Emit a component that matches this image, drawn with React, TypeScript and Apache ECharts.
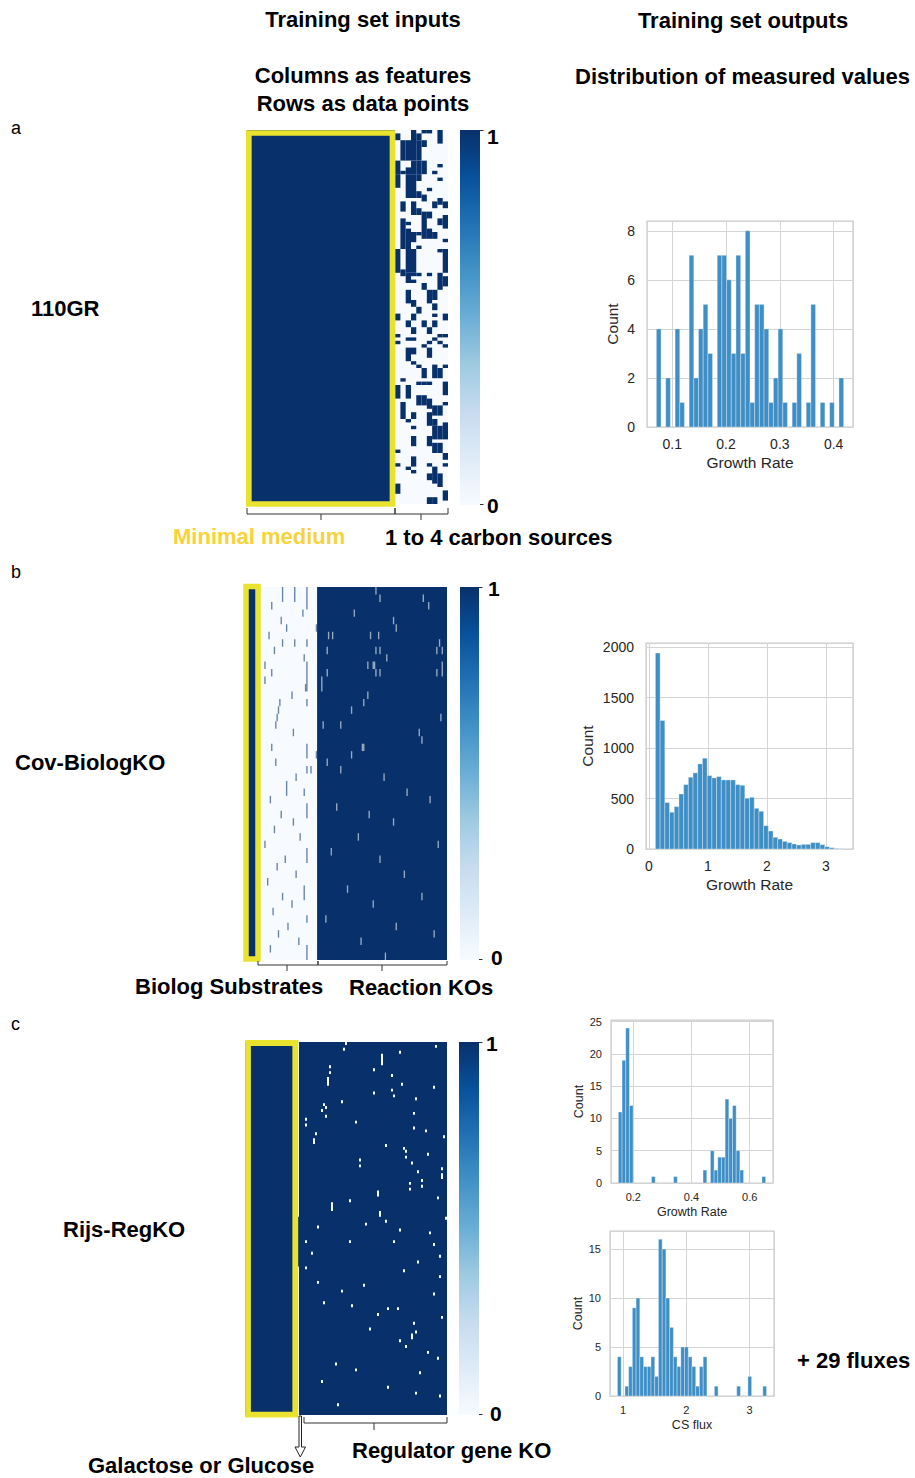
import React, { useEffect, useRef } from "react";
import * as echarts from "echarts";

const W = 915;
const H = 1478;
const FONT = '"Liberation Sans", Arial, Helvetica, sans-serif';
const TXT = "#262626";
const GRIDC = "#d4d4d4";
const BAR = "#3f8fc6";
const YELLOW = "#e9e330";
const YELLOW_TXT = "#f8d23a";

// ---------- Blues colormap ----------
const BLUES = ["#f7fbff", "#deebf7", "#c6dbef", "#9ecae1", "#6baed6", "#4292c6", "#2171b5", "#08519c", "#08306b"];

// ---------- Panel a : 110GR (28 minimal-medium columns, 10 carbon-source columns, 110 rows) ----------
const aMediumCols = 28;
const aCarbonCols = 10;
const aRows = 110;
// dark cells in the carbon-source block: [column, rowFrom, rowTo]
const aCarbonOn: number[][] = [
  [0, 1, 2], [3, 0, 3], [5, 0, 0], [6, 0, 0], [8, 0, 3], [4, 1, 2],
  [1, 3, 8], [2, 3, 8], [3, 3, 8], [4, 3, 8], [5, 3, 4],
  [0, 9, 12], [3, 9, 12], [4, 9, 12], [5, 9, 12], [8, 10, 10],
  [2, 11, 12], [1, 12, 12], [7, 12, 12],
  [0, 13, 16], [2, 13, 19], [3, 13, 19], [4, 13, 14], [8, 14, 14],
  [6, 17, 17], [4, 18, 19], [5, 19, 20], [8, 20, 21],
  [1, 21, 23], [3, 21, 24], [7, 21, 22], [9, 21, 22],
  [4, 23, 24], [5, 24, 31], [6, 24, 25], [9, 25, 28],
  [1, 26, 34], [8, 26, 27], [2, 27, 27], [2, 29, 34], [6, 29, 31], [3, 30, 32], [4, 30, 30], [7, 30, 31],
  [9, 32, 32], [4, 34, 34],
  [0, 35, 41], [2, 35, 41], [3, 35, 41], [9, 35, 41], [8, 35, 35], [1, 41, 42],
  [2, 42, 44], [3, 42, 42], [4, 42, 42], [6, 42, 42], [8, 42, 46],
  [9, 43, 45], [3, 44, 44], [5, 45, 46],
  [2, 47, 50], [6, 47, 50], [7, 47, 49], [3, 50, 51],
  [4, 52, 53], [7, 51, 52],
  [0, 54, 55], [3, 54, 55], [7, 54, 54], [9, 54, 55],
  [2, 56, 57], [5, 56, 57], [7, 56, 57], [6, 58, 59], [3, 58, 59],
  [0, 60, 60], [2, 61, 61], [3, 61, 61], [7, 61, 61], [8, 60, 60], [9, 60, 60],
  [0, 62, 62], [6, 62, 62], [8, 62, 62], [5, 63, 63], [9, 63, 63],
  [2, 64, 67], [3, 64, 65], [6, 64, 66],
  [3, 68, 68],
  [4, 69, 69], [5, 70, 72], [7, 69, 72], [8, 70, 72], [9, 69, 69],
  [1, 73, 73],
  [4, 74, 74], [5, 74, 74], [6, 74, 74], [9, 74, 77],
  [0, 75, 78], [2, 75, 78],
  [4, 78, 80], [5, 78, 80], [6, 79, 81],
  [1, 80, 84], [7, 81, 83], [8, 81, 83], [9, 80, 80],
  [3, 83, 84], [6, 83, 86], [7, 85, 86], [2, 85, 85],
  [3, 87, 87],
  [7, 87, 90], [8, 87, 90], [9, 86, 90],
  [3, 90, 92], [6, 90, 92],
  [7, 92, 94], [8, 92, 94],
  [0, 94, 94], [9, 95, 96],
  [3, 96, 98],
  [0, 98, 98], [6, 98, 98], [9, 98, 98],
  [2, 99, 99], [7, 99, 103], [3, 100, 100],
  [6, 101, 102], [8, 101, 104],
  [0, 104, 106],
  [9, 106, 108],
  [6, 108, 109], [7, 108, 109],
];

// ---------- Panel b : Cov-BiologKO (10 medium, 44 Biolog, 96 reaction-KO columns, 50 row blocks) ----------
const bMediumCols = 10;
const bBiologCols = 44;
const bReactionCols = 96;
const bRows = 50;
// dark marks inside the (mostly empty) Biolog block: [column, rowFrom, rowTo]
const bBiologOn: number[][] = [
  [28, 0, 1], [37, 0, 1], [46, 0, 2], [20, 2, 2], [43, 3, 3], [27, 4, 4], [31, 5, 5], [53, 5, 5],
  [18, 6, 6], [28, 7, 7], [37, 7, 7], [46, 7, 7], [22, 8, 8], [44, 9, 9], [15, 10, 10], [46, 10, 13],
  [20, 11, 11], [15, 12, 12], [45, 13, 13], [35, 14, 14], [26, 15, 15], [46, 15, 15], [25, 16, 16],
  [24, 17, 17], [23, 18, 18], [36, 19, 19], [20, 21, 21], [46, 21, 22], [53, 22, 22], [23, 23, 23],
  [46, 24, 24], [49, 24, 24], [38, 25, 25],
  [31, 26, 27], [44, 27, 27], [19, 28, 28], [46, 29, 30], [27, 30, 30], [36, 31, 31], [22, 32, 32],
  [41, 33, 33], [15, 34, 34], [46, 35, 36], [30, 36, 36], [24, 37, 37], [38, 38, 38], [17, 39, 39],
  [44, 40, 41], [28, 41, 41], [35, 42, 42], [21, 43, 43], [46, 44, 44], [32, 45, 45], [25, 46, 46],
  [40, 47, 47], [46, 48, 49], [19, 48, 48],
];
// empty marks inside the (mostly full) reaction-KO block: [column, rowFrom, rowTo]
const bReactionOff: number[][] = [
  [97, 0, 0], [100, 1, 1], [132, 1, 1], [136, 2, 2], [81, 3, 3], [110, 4, 4], [112, 5, 5],
  [62, 6, 6], [65, 6, 6], [93, 6, 6], [99, 6, 6], [144, 7, 7], [61, 8, 8], [97, 8, 8], [100, 8, 8],
  [142, 8, 8], [146, 8, 8], [105, 9, 9], [91, 10, 10], [95, 10, 10], [96, 10, 10], [146, 10, 10],
  [61, 11, 11], [97, 11, 11], [100, 11, 11], [142, 11, 11], [146, 11, 11], [57, 12, 13], [91, 14, 14],
  [88, 15, 15], [79, 16, 16], [145, 17, 17], [58, 18, 18], [71, 18, 18], [129, 19, 19], [131, 20, 20],
  [87, 21, 21], [88, 21, 21], [79, 22, 22], [61, 23, 23], [71, 24, 24], [103, 25, 25],
  [120, 27, 27], [137, 28, 28], [68, 29, 29], [92, 30, 30], [110, 31, 31], [84, 33, 33], [143, 34, 34],
  [64, 35, 35], [100, 36, 36], [118, 38, 38], [76, 40, 40], [131, 41, 41], [95, 42, 42], [60, 44, 44],
  [112, 45, 45], [140, 46, 46], [86, 47, 47], [104, 49, 49],
];

// ---------- Panel c : Rijs-RegKO (26 medium, 1 galactose/glucose, 74 regulator columns, 128 rows) ----------
const cMediumCols = 26;
const cSwitchCols = 1;
const cRegulatorCols = 74;
const cRows = 128;
const cSwitchOn: number[][] = [[60, 76]];
const cRegulatorOff: number[][] = [
  [50, 0, 0], [49, 2, 2], [77, 3, 3], [95, 1, 1], [68, 4, 7], [42, 8, 8], [42, 10, 10], [41, 12, 14],
  [64, 9, 9], [73, 11, 11], [78, 14, 14], [94, 15, 15], [73, 16, 16], [64, 17, 17], [74, 18, 18],
  [85, 19, 19], [48, 20, 20], [39, 21, 21], [40, 22, 22], [38, 23, 23], [40, 25, 25], [84, 24, 24],
  [30, 26, 26], [55, 27, 27], [30, 28, 28], [84, 29, 29], [90, 30, 30], [35, 31, 31], [99, 32, 32],
  [34, 33, 34], [70, 35, 35], [79, 36, 36], [80, 37, 37], [91, 38, 38], [57, 40, 40], [80, 39, 39],
  [83, 41, 41], [57, 42, 42], [98, 43, 43], [86, 44, 44], [98, 45, 46], [88, 47, 47], [82, 48, 48],
  [88, 49, 49], [82, 50, 50], [66, 51, 52], [96, 53, 53], [52, 54, 54], [43, 55, 57], [67, 58, 59],
  [100, 60, 60], [70, 61, 61], [60, 62, 62], [36, 63, 63], [77, 64, 64], [92, 65, 65],
  [30, 68, 68], [52, 68, 68], [74, 68, 68], [94, 69, 69], [33, 72, 72], [97, 73, 73], [86, 75, 75],
  [30, 77, 77], [79, 78, 78], [97, 80, 80], [36, 82, 82], [59, 83, 83], [48, 85, 85], [94, 86, 86],
  [39, 89, 89], [53, 90, 90], [76, 91, 91], [71, 91, 91], [66, 93, 93], [98, 94, 94], [84, 96, 96],
  [62, 98, 98], [85, 99, 99], [83, 100, 101], [77, 102, 102], [80, 104, 104], [91, 106, 106],
  [96, 108, 108], [45, 110, 110], [55, 112, 112], [87, 113, 113], [38, 116, 116], [71, 118, 118],
  [85, 120, 120], [97, 121, 121], [46, 124, 124],
];

// ---------- Histograms (40 bins each) ----------
const histA_counts = [4, 0, 2, 0, 4, 1, 0, 7, 2, 4, 5, 3, 0, 7, 7, 6, 3, 7, 3, 8, 1, 5, 5, 4, 1, 2, 4, 1, 0, 1, 3, 0, 1, 5, 0, 1, 0, 1, 0, 2];
const histA_range = [0.0704, 0.4186];
const histA_xTicks = [0.1, 0.2, 0.3, 0.4];
const histA_yTicks = [0, 2, 4, 6, 8];

const histB_counts = [1940, 1273, 460, 364, 420, 545, 638, 711, 754, 843, 899, 727, 704, 717, 684, 684, 684, 638, 631, 502, 512, 403, 374, 231, 178, 116, 99, 76, 63, 50, 40, 46, 46, 63, 63, 43, 23, 13, 5, 2];
const histB_range = [0.1086, 3.3];
const histB_xTicks = [0, 1, 2, 3];
const histB_yTicks = [0, 500, 1000, 1500, 2000];

const histC1_counts = [11, 19, 24, 12, 0, 0, 0, 0, 0, 1, 0, 0, 0, 0, 0, 1, 0, 0, 0, 0, 0, 0, 0, 2, 0, 5, 2, 4, 4, 13, 10, 12, 5, 2, 0, 0, 0, 0, 0, 1];
const histC1_range = [0.1488, 0.6547];
const histC1_xTicks = [0.2, 0.4, 0.6];
const histC1_yTicks = [0, 5, 10, 15, 20, 25];

const histC2_counts = [4, 0, 1, 3, 9, 10, 4, 3, 3, 4, 2, 16, 15, 10, 7, 4, 3, 5, 5, 4, 3, 1, 3, 4, 0, 0, 1, 0, 0, 0, 0, 0, 1, 0, 0, 2, 0, 0, 0, 1];
const histC2_range = [0.9127, 3.2663];
const histC2_xTicks = [1, 2, 3];
const histC2_yTicks = [0, 5, 10, 15];

// ---------- helpers ----------
function hexToRgb(h: string) {
  const n = parseInt(h.slice(1), 16);
  return [(n >> 16) & 255, (n >> 8) & 255, n & 255];
}
function blues(v: number) {
  const t = Math.max(0, Math.min(1, v)) * (BLUES.length - 1);
  const i = Math.min(BLUES.length - 2, Math.floor(t));
  const f = t - i;
  const a = hexToRgb(BLUES[i]);
  const b = hexToRgb(BLUES[i + 1]);
  const c = a.map((x, k) => Math.round(x + (b[k] - x) * f));
  return `rgb(${c[0]},${c[1]},${c[2]})`;
}

function rectRender(params: any, api: any) {
  const p0 = api.coord([api.value(0), api.value(2)]);
  const p1 = api.coord([api.value(1), api.value(3)]);
  const w = Math.abs(p1[0] - p0[0]);
  return {
    type: "rect",
    shape: {
      x: Math.min(p0[0], p1[0]),
      y: Math.min(p0[1], p1[1]),
      width: w,
      height: Math.abs(p1[1] - p0[1]),
    },
    // sub-2px wide cells blend with their neighbours on screen
    style: { fill: blues(api.value(4)), opacity: w < 2 ? 0.6 : 1 },
  };
}

function histRender(params: any, api: any) {
  const p0 = api.coord([api.value(0), api.value(2)]);
  const p1 = api.coord([api.value(1), 0]);
  return {
    type: "rect",
    shape: { x: p0[0], y: p0[1], width: p1[0] - p0[0], height: p1[1] - p0[1] },
    style: { fill: BAR, stroke: "rgba(255,255,255,0.55)", lineWidth: 0.6 },
  };
}

function tickFormatter(ticks: number[]) {
  return (v: number) => {
    const t = ticks.find((x) => Math.abs(x - v) < 1e-6 * Math.max(1, Math.abs(x)));
    return t === undefined ? "" : String(t);
  };
}

export default function App() {
  const ref = useRef<HTMLDivElement>(null);

  useEffect(() => {
    if (!ref.current) return;
    const chart = echarts.init(ref.current, undefined, { renderer: "svg", width: W, height: H });

    // ---- heatmap cell data [x0, x1, y0, y1, value] ----
    const aTotal = aMediumCols + aCarbonCols;
    const aData: number[][] = [
      [0, aMediumCols, 0, aRows, 1],
      [aMediumCols, aTotal, 0, aRows, 0],
      ...aCarbonOn.map(([c, r0, r1]) => [aMediumCols + c, aMediumCols + c + 1, r0, r1 + 1, 1]),
    ];

    const bTotal = bMediumCols + bBiologCols + bReactionCols;
    const bData: number[][] = [
      [0, bMediumCols, 0, bRows, 1],
      [bMediumCols, bMediumCols + bBiologCols, 0, bRows, 0],
      [bMediumCols + bBiologCols, bTotal, 0, bRows, 1],
      ...bBiologOn.map(([c, r0, r1]) => [c, c + 1, r0, r1 + 1, 1]),
      ...bReactionOff.map(([c, r0, r1]) => [c, c + 1, r0, r1 + 1, 0]),
    ];

    const cTotal = cMediumCols + cSwitchCols + cRegulatorCols;
    const cData: number[][] = [
      [0, cMediumCols, 0, cRows, 1],
      [cMediumCols, cMediumCols + cSwitchCols, 0, cRows, 0],
      ...cSwitchOn.map(([r0, r1]) => [cMediumCols, cMediumCols + cSwitchCols, r0, r1 + 1, 1]),
      [cMediumCols + cSwitchCols, cTotal, 0, cRows, 1],
      ...cRegulatorOff.map(([c, r0, r1]) => [c, c + 1, r0, r1 + 1, 0]),
    ];

    const heatmaps = [
      { left: 247, top: 130, width: 201, height: 374, cols: aTotal, rows: aRows, data: aData },
      { left: 244, top: 587, width: 203, height: 373, cols: bTotal, rows: bRows, data: bData },
      { left: 245, top: 1042, width: 202, height: 373, cols: cTotal, rows: cRows, data: cData },
    ];

    const hists = [
      { left: 647, top: 221, width: 206, height: 206, xMin: 0.053, xMax: 0.436, yMax: 8.4, yInt: 2, split: 4,
        range: histA_range, counts: histA_counts, xTicks: histA_xTicks, yTicks: histA_yTicks, xName: "Growth Rate",
        tick: 14, name: 15.5, xMargin: 10, yMargin: 12, xGap: 27, yGap: 27 },
      { left: 646, top: 643, width: 207, height: 206, xMin: -0.051, xMax: 3.459, yMax: 2040, yInt: 500, split: 4,
        range: histB_range, counts: histB_counts, xTicks: histB_xTicks, yTicks: histB_yTicks, xName: "Growth Rate",
        tick: 14, name: 15.5, xMargin: 10, yMargin: 12, xGap: 27, yGap: 51 },
      { left: 611, top: 1020, width: 162, height: 163, xMin: 0.1235, xMax: 0.68, yMax: 25.25, yInt: 5, split: 3,
        range: histC1_range, counts: histC1_counts, xTicks: histC1_xTicks, yTicks: histC1_yTicks, xName: "Growth Rate",
        tick: 11, name: 12.5, xMargin: 8, yMargin: 9, xGap: 22, yGap: 26 },
      { left: 610, top: 1231, width: 164, height: 165, xMin: 0.795, xMax: 3.384, yMax: 16.84, yInt: 5, split: 3,
        range: histC2_range, counts: histC2_counts, xTicks: histC2_xTicks, yTicks: histC2_yTicks, xName: "CS flux",
        tick: 11, name: 12.5, xMargin: 8, yMargin: 9, xGap: 22, yGap: 25 },
    ];

    const grid: any[] = [];
    const xAxis: any[] = [];
    const yAxis: any[] = [];
    const series: any[] = [];

    heatmaps.forEach((h, i) => {
      grid.push({ left: h.left, top: h.top, width: h.width, height: h.height, show: false });
      xAxis.push({ type: "value", gridIndex: i, min: 0, max: h.cols, show: false });
      yAxis.push({ type: "value", gridIndex: i, min: 0, max: h.rows, inverse: true, show: false });
      series.push({
        type: "custom", xAxisIndex: i, yAxisIndex: i, renderItem: rectRender, data: h.data, silent: true, clip: true,
      });
    });

    hists.forEach((h, k) => {
      const i = heatmaps.length + k;
      const bw = (h.range[1] - h.range[0]) / h.counts.length;
      const data = h.counts
        .map((c, j) => [h.range[0] + j * bw, h.range[0] + (j + 1) * bw, c])
        .filter((d) => d[2] > 0);
      grid.push({
        left: h.left, top: h.top, width: h.width, height: h.height, show: true,
        borderColor: "#cccccc", borderWidth: 1.25, backgroundColor: "#ffffff",
      });
      xAxis.push({
        type: "value", gridIndex: i, min: h.xMin, max: h.xMax, splitNumber: h.split,
        axisLine: { show: false }, axisTick: { show: false },
        splitLine: { show: true, lineStyle: { color: GRIDC, width: 1 } },
        axisLabel: { fontSize: h.tick, color: TXT, fontFamily: FONT, margin: h.xMargin, formatter: tickFormatter(h.xTicks) },
        name: h.xName, nameLocation: "middle", nameGap: h.xGap,
        nameTextStyle: { fontSize: h.name, color: TXT, fontFamily: FONT },
      });
      yAxis.push({
        type: "value", gridIndex: i, min: 0, max: h.yMax, interval: h.yInt,
        axisLine: { show: false }, axisTick: { show: false },
        splitLine: { show: true, lineStyle: { color: GRIDC, width: 1 } },
        axisLabel: { fontSize: h.tick, color: TXT, fontFamily: FONT, margin: h.yMargin, formatter: tickFormatter(h.yTicks) },
        name: "Count", nameLocation: "middle", nameGap: h.yGap,
        nameTextStyle: { fontSize: h.name, color: TXT, fontFamily: FONT },
      });
      series.push({ type: "custom", xAxisIndex: i, yAxisIndex: i, renderItem: histRender, data, silent: true, z: 3 });
    });

    // ---- decorations ----
    const bold = (text: string, x: number, y: number, align = "left", fill = "#000", size = 22) => ({
      type: "text", x, y, silent: true, z: 100,
      style: { text, fill, fontFamily: FONT, fontWeight: "bold", fontSize: size, align, verticalAlign: "middle" },
    });
    const plain = (text: string, x: number, y: number) => ({
      type: "text", x, y, silent: true, z: 100,
      style: { text, fill: "#000", fontFamily: FONT, fontSize: 18, align: "left", verticalAlign: "middle" },
    });
    const gradient = () =>
      new echarts.graphic.LinearGradient(0, 0, 0, 1,
        BLUES.slice().reverse().map((c, i) => ({ offset: i / (BLUES.length - 1), color: c })));
    const colorbar = (x: number, y: number, w: number, h: number) => [
      { type: "rect", silent: true, z: 100, shape: { x, y, width: w, height: h }, style: { fill: gradient() } },
      { type: "line", silent: true, z: 100, shape: { x1: x + w, y1: y + 0.5, x2: x + w + 3.5, y2: y + 0.5 }, style: { stroke: "#333", lineWidth: 1 } },
      { type: "line", silent: true, z: 100, shape: { x1: x + w, y1: y + h - 0.5, x2: x + w + 3.5, y2: y + h - 0.5 }, style: { stroke: "#333", lineWidth: 1 } },
    ];
    const yellowBox = (x: number, y: number, w: number, h: number, lw: number) => ({
      type: "rect", silent: true, z: 100, shape: { x, y, width: w, height: h },
      style: { fill: "none", stroke: YELLOW, lineWidth: lw },
    });
    const bracket = (x1: number, x2: number, y: number, up: number) => ({
      type: "polyline", silent: true, z: 100,
      shape: { points: [[x1, y - up], [x1, y], [x2, y], [x2, y - up]] },
      style: { stroke: "#333", lineWidth: 1, fill: "none" },
    });
    const midTick = (x: number, y: number, down: number) => ({
      type: "line", silent: true, z: 100, shape: { x1: x, y1: y, x2: x, y2: y + down },
      style: { stroke: "#333", lineWidth: 1 },
    });

    const graphic: any[] = [
      bold("Training set inputs", 363, 19, "center"),
      bold("Training set outputs", 743, 20, "center"),
      bold("Columns as features", 363, 75, "center"),
      bold("Rows as data points", 363, 103, "center"),
      bold("Distribution of measured values", 742.5, 76, "center"),
      plain("a", 11, 128),
      plain("b", 11, 572),
      plain("c", 11, 1024),
      bold("110GR", 31, 308),
      bold("Cov-BiologKO", 15, 762),
      bold("Rijs-RegKO", 63, 1229),
      bold("Minimal medium", 173, 536, "left", YELLOW_TXT),
      bold("1 to 4 carbon sources", 385, 537),
      bold("Biolog Substrates", 135, 986),
      bold("Reaction KOs", 349, 987),
      bold("Regulator gene KO", 352, 1450),
      bold("Galactose or Glucose", 88, 1465),
      bold("+ 29 fluxes", 797, 1360),
      // colorbars
      ...colorbar(460, 130, 20, 375),
      bold("1", 487, 136, "left", "#000", 21),
      bold("0", 487, 505, "left", "#000", 21),
      ...colorbar(460, 587, 19, 373),
      bold("1", 488, 588, "left", "#000", 21),
      bold("0", 491, 957, "left", "#000", 21),
      ...colorbar(459, 1042, 20, 373),
      bold("1", 486, 1043, "left", "#000", 21),
      bold("0", 490, 1413, "left", "#000", 21),
      // yellow frames
      yellowBox(248.8, 133, 143.7, 371, 5.7),
      yellowBox(246, 586.5, 12, 372.5, 5.5),
      yellowBox(248, 1043, 47.3, 371.7, 5.8),
      // brackets
      bracket(247, 395, 514, 6), midTick(321, 514, 6),
      bracket(395, 448, 514, 6), midTick(421, 514, 6),
      bracket(258, 318, 965, 4), midTick(287, 965, 6),
      bracket(318, 447, 965, 4), midTick(382, 965, 6),
      bracket(304, 447, 1423, 6), midTick(374, 1423, 7),
      // hollow arrow (galactose / glucose column)
      {
        type: "polygon", silent: true, z: 100,
        shape: { points: [[299, 1416], [301.5, 1416], [301.5, 1447], [305.5, 1447], [300.3, 1457], [295, 1447], [299, 1447]] },
        style: { fill: "#ffffff", stroke: "#222", lineWidth: 1 },
      },
    ];

    chart.setOption({
      animation: false,
      backgroundColor: "#ffffff",
      grid, xAxis, yAxis, series, graphic,
    });

    return () => chart.dispose();
  }, []);

  return (
    <div
      ref={ref}
      style={{ position: "absolute", left: 0, top: 0, width: W, height: H, background: "#fff" }}
    />
  );
}
